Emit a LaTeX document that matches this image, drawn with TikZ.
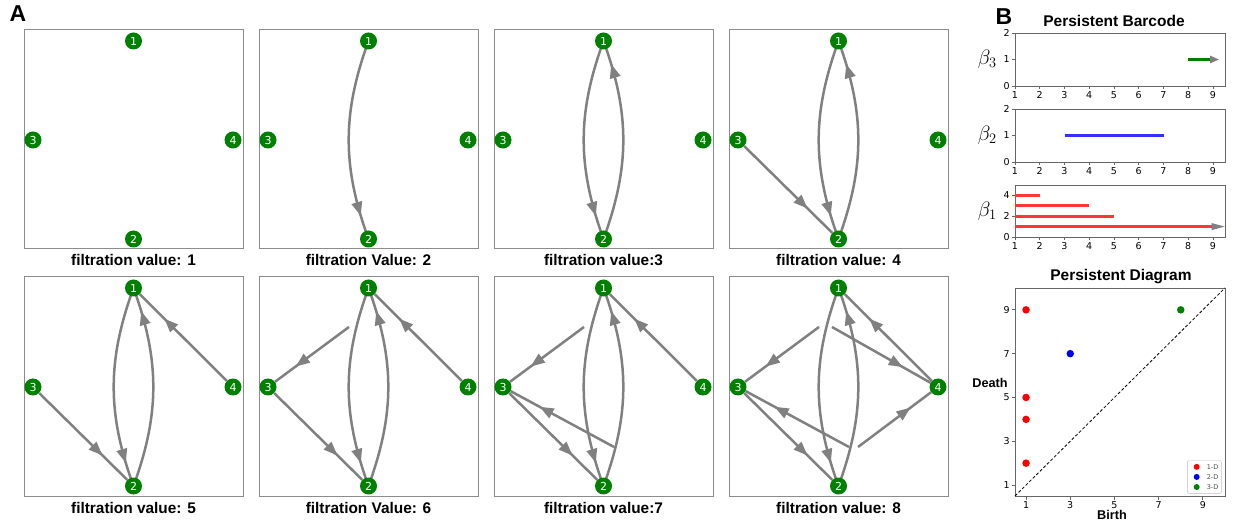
\documentclass[tikz,border=0pt]{standalone}
\usepackage{fontspec}
\setmainfont{Liberation Sans}
\newfontfamily\dejavu{DejaVu Sans}
\usetikzlibrary{arrows.meta,decorations.markings,backgrounds}
\definecolor{nodegreen}{RGB}{0,128,0}
\definecolor{linkgray}{RGB}{128,128,128}
\definecolor{barred}{RGB}{255,55,55}
\definecolor{barblue}{RGB}{50,50,255}
\tikzset{
  >={Triangle[length=14pt,width=10.5pt]},
}
\tikzstyle{vertex}=[circle,fill=nodegreen,inner sep=0pt,minimum size=17pt,text=white,font=\dejavu\fontsize{11}{11}\selectfont]
\tikzstyle{panelbox}=[draw=black!45,line width=1pt]
\tikzstyle{linkbase}=[draw=linkgray,line width=2.5pt,postaction={decorate}]
\tikzstyle{link}=[linkbase,decoration={markings,mark=at position 0.72 with {\arrow[linkgray]{>}}}]
\tikzstyle{bowlink}=[linkbase,decoration={markings,mark=at position 0.88 with {\arrow[linkgray]{>}}}]
\tikzstyle{capt}=[anchor=base,font=\bfseries\fontsize{15.4}{18}\selectfont]
\tikzstyle{spine}=[draw=black!60,line width=0.8pt]
\tikzstyle{ticklab}=[font=\dejavu\fontsize{9.5}{10}\selectfont,inner sep=1.5pt]
\tikzstyle{barline}=[line width=3pt]
\tikzstyle{pdot}=[circle,inner sep=0pt,minimum size=7.5pt]
\tikzstyle{bigletter}=[font=\bfseries\fontsize{23}{26}\selectfont]
\tikzstyle{title}=[font=\bfseries\fontsize{15.5}{18}\selectfont]

% one network panel: index, left px, top px, caption
\newcommand{\netpanel}[4]{%
  \begin{scope}[shift={(#2,#3)},name prefix=p#1-]
    \draw[panelbox] (0,0) rectangle (219,219);
    \node[vertex] (n1) at (109.5,11) {1};
    \node[vertex] (n2) at (109.5,209) {2};
    \node[vertex] (n3) at (9,110) {3};
    \node[vertex] (n4) at (209,110) {4};
    \node[capt] (cap) at (109.5,236) {#4};
    \coordinate (ul) at (90,50);
    \coordinate (ur) at (103,50);
    \coordinate (ll) at (120,170);
    \coordinate (lr) at (129,170);
    \begin{pgfonlayer}{background}
      \ifnum#1>1 \draw[bowlink] (n1.center) to[bend right=20] (n2); \fi
      \ifnum#1>2 \draw[bowlink] (n2.center) to[bend right=20] (n1); \fi
      \ifnum#1>3 \draw[link] (n3) -- (n2); \fi
      \ifnum#1>4 \draw[link] (n4) -- (n1); \fi
      \ifnum#1>5 \draw[link] (ul) -- (n3); \fi
      \ifnum#1>6 \draw[link] (ll) -- (n3); \fi
      \ifnum#1>7 \draw[link] (ur) -- (n4); \draw[link] (lr) -- (n4); \fi
    \end{pgfonlayer}
  \end{scope}}

% one barcode frame: bottom px, ymax, y unit, y ticks, index, bars
\newcommand{\barframe}[6]{%
  \begin{scope}[shift={(990.25,#1)},x=24.75pt,y=#3]
    \draw[spine] (1,0) rectangle (9.5,#2);
    \foreach \t in {1,...,9}
      \draw[spine] (\t,0) -- ++(0,-3.5pt) node[below,ticklab] {\t};
    \foreach \t in {#4}
      \draw[spine] (1,\t) -- ++(-3.5pt,0) node[left,ticklab] {\t};
    \node[font=\fontsize{21}{24}\selectfont] (beta#5) at (-0.12,#2/2) {$\beta_#5$};
    #6
  \end{scope}}

\begin{document}
\begin{tikzpicture}[x=1pt,y=-1pt]
  \useasboundingbox (0,0) rectangle (1237,526);
  \node[bigletter] (labA) at (18,14) {A};
  \node[bigletter] (labB) at (1004,17) {B};

  \foreach \i/\px/\py/\txt in {1/24/30/filtration value: 1,2/259/30/filtration Value: 2,
      3/494/30/filtration value:3,4/729/30/filtration value: 4,5/24/277/filtration value: 5,
      6/259/277/filtration Value: 6,7/494/277/filtration value:7,8/729/277/filtration value: 8}
    {\netpanel{\i}{\px}{\py}{\txt}}

  % barcode
  \node[title] (bartitle) at (1114,21) {Persistent Barcode};
  \barframe{86}{2}{26.5pt}{0,1,2}{3}{%
    \draw[barline,nodegreen,-{Triangle[length=9pt,width=7pt,color=linkgray]}] (8,1) -- (9.25,1);}
  \barframe{162}{2}{26.5pt}{0,1,2}{2}{%
    \draw[barline,barblue] (3,1) -- (7,1);}
  \barframe{237}{5}{10.4pt}{0,2,4}{1}{%
    \draw[barline,barred] (1,4) -- (2,4);
    \draw[barline,barred] (1,3) -- (4,3);
    \draw[barline,barred] (1,2) -- (5,2);
    \draw[barline,barred,-{Triangle[length=15pt,width=6pt,color=linkgray]}] (1,1) -- (9.55,1);}

  % persistence diagram
  \node[title] (pdtitle) at (1121,277) {Persistent Diagram};
  \node[font=\bfseries\fontsize{12.7}{14}\selectfont] (death) at (990,383) {Death};
  \node[font=\bfseries\fontsize{12.7}{14}\selectfont] (birth) at (1112,515) {Birth};
  \begin{scope}[shift={(1003.95,506.95)},x=22.1pt,y=21.9pt]
    \draw[spine] (0.5,0.5) rectangle (10,10);
    \draw[black,line width=0.8pt,dash pattern=on 3pt off 2pt] (0.5,0.5) -- (10,10);
    \foreach \t in {1,3,5,7,9} {
      \draw[spine] (\t,0.5) -- ++(0,-3.5pt) node[below,ticklab] {\t};
      \draw[spine] (0.5,\t) -- ++(-3.5pt,0) node[left,ticklab] {\t};
    }
    \foreach \bx/\dy/\col [count=\n] in {1/9/red,1/5/red,1/4/red,1/2/red,3/7/blue,8/9/nodegreen}
      \node[pdot,fill=\col] (pt\n) at (\bx,\dy) {};
    \draw[black!25,rounded corners=1.5pt,fill=white] (8.3,0.62) rectangle (9.84,2.12);
    \foreach \col/\lab/\ly [count=\m] in {red/1-D/1.83,blue/2-D/1.37,nodegreen/3-D/0.91} {
      \node[pdot,minimum size=6pt,fill=\col] (legdot\m) at (8.72,\ly) {};
      \node[font=\dejavu\fontsize{6.5}{7}\selectfont,text=black!70] (legtxt\m) at (9.44,\ly) {\lab};
    }
  \end{scope}
\end{tikzpicture}
\end{document}
